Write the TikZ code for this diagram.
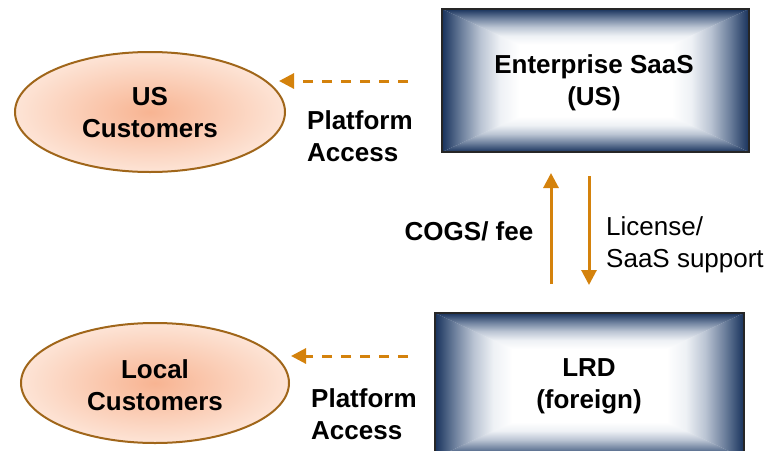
\documentclass[tikz,border=0pt]{standalone}
\usepackage{fontspec}
\setmainfont{Liberation Sans}
\usetikzlibrary{arrows.meta,shapes.geometric}

\definecolor{navyedge}{RGB}{24,50,92}
\definecolor{rimA}{RGB}{238,241,245}
\definecolor{rimB}{RGB}{186,196,211}
\definecolor{rimC}{RGB}{108,127,156}
\definecolor{salmonin}{RGB}{248,180,146}
\definecolor{salmonout}{RGB}{253,228,214}
\definecolor{ovalrim}{RGB}{160,102,26}
\definecolor{flow}{RGB}{212,130,12}

% white at the inner side (bottom), navy at the rim (top)
\pgfdeclareverticalshading{rimfade}{100bp}{%
  color(0bp)=(white); color(25bp)=(white); color(37.5bp)=(rimA);
  color(50bp)=(rimB); color(62.5bp)=(rimC); color(75bp)=(navyedge);
  color(100bp)=(navyedge)}

\tikzset{
  lbl/.style={font=\fontsize{26}{32}\selectfont, align=center, inner sep=0pt},
  lbll/.style={font=\fontsize{26}{32}\selectfont, align=left, inner sep=0pt},
  oval/.style={ellipse, draw=ovalrim, line width=2pt, inner color=salmonin, outer color=salmonout},
  boxframe/.style={draw=black!85, line width=1.2pt, inner sep=0pt},
  flowdash/.style={draw=flow, line width=3pt, dash pattern=on 10pt off 9pt, -{Triangle[length=15pt,width=15pt]}},
  flowsolid/.style={draw=flow, line width=3pt, -{Triangle[length=15pt,width=15pt]}}
}

% rectangular gradient: dark rim fading towards a white core rectangle
\newcommand\pyrbox[5]{%
  \pgfmathsetmacro\ix{(#3-#1)/4}%
  \pgfmathsetmacro\iy{(#4-#2)/4}%
  \pgfmathsetmacro\yc{(#2+#4)/2}%
  \pgfmathsetmacro\xa{#1+\ix}%
  \pgfmathsetmacro\xb{#3-\ix}%
  \pgfmathsetmacro\ya{#2+\iy}%
  \pgfmathsetmacro\yb{#4-\iy}%
  \fill[white] (\xa-0.5,\ya-0.5) rectangle (\xb+0.5,\yb+0.5);
  \shade[shading=rimfade] (#1,#2) -- (#3,#2) -- (\xb,\ya) -- (\xa,\ya) -- cycle;
  \shade[shading=rimfade, shading angle=180] (#1,#4) -- (#3,#4) -- (\xb,\yb) -- (\xa,\yb) -- cycle;
  \shade[shading=rimfade, shading angle=90] (#1,#2) -- (\xa+0.3,\ya-0.3) -- (\xa+0.3,\yb+0.3) -- (#1,#4) -- cycle;
  \shade[shading=rimfade, shading angle=270] (#3,#2) -- (\xb-0.3,\ya-0.3) -- (\xb-0.3,\yb+0.3) -- (#3,#4) -- cycle;
  \node[boxframe, minimum width=#3-#1, minimum height=#4-#2] (#5) at ({(#1+#3)/2},\yc) {};
}

\begin{document}
\begin{tikzpicture}[x=1pt,y=-1pt]
  \useasboundingbox (0,0) rectangle (771,450);
  \clip (0,0) rectangle (771,450);

  % provider boxes
  \pyrbox{442}{9}{749}{152}{ent}
  \pyrbox{435}{313}{744}{458}{lrd}
  \node[lbl, font=\fontsize{26}{32}\selectfont\bfseries] (enttxt) at (594,83) {Enterprise SaaS\\(US)};
  \node[lbl, font=\fontsize{26}{32}\selectfont\bfseries] (lrdtxt) at (589,386) {LRD\\(foreign)};

  % customer groups
  \node[oval, minimum width=270, minimum height=120] (usc) at (150,112) {};
  \node[lbl, font=\fontsize{26}{32}\selectfont\bfseries] (usctxt) at (150,113) {US\\Customers};
  \node[oval, minimum width=268, minimum height=120] (loc) at (155,383) {};
  \node[lbl, font=\fontsize{26}{32}\selectfont\bfseries] (loctxt) at (155,385) {Local\\Customers};

  % platform access flows
  \coordinate (a1s) at (408,81);
  \coordinate (a1e) at (279,81);
  \coordinate (a2s) at (408,356);
  \coordinate (a2e) at (291,356);
  \draw[flowdash] (a1s) -- (a1e);
  \draw[flowdash] (a2s) -- (a2e);
  \node[lbll, font=\fontsize{26}{32}\selectfont\bfseries, anchor=west] (pa1) at (307,136) {Platform\\Access};
  \node[lbll, font=\fontsize{26}{32}\selectfont\bfseries, anchor=west] (pa2) at (311,414) {Platform\\Access};

  % intercompany flows
  \coordinate (upb) at (551,284);
  \coordinate (upt) at (551,173);
  \coordinate (dnt) at (589,176);
  \coordinate (dnb) at (589,285);
  \draw[flowsolid] (upb) -- (upt);
  \draw[flowsolid] (dnt) -- (dnb);
  \node[lbl, font=\fontsize{26}{32}\selectfont\bfseries] (cogs) at (469,231) {COGS/ fee};
  \node[lbll, anchor=west] (lic) at (606,245) {License/\\SaaS support};
\end{tikzpicture}
\end{document}
